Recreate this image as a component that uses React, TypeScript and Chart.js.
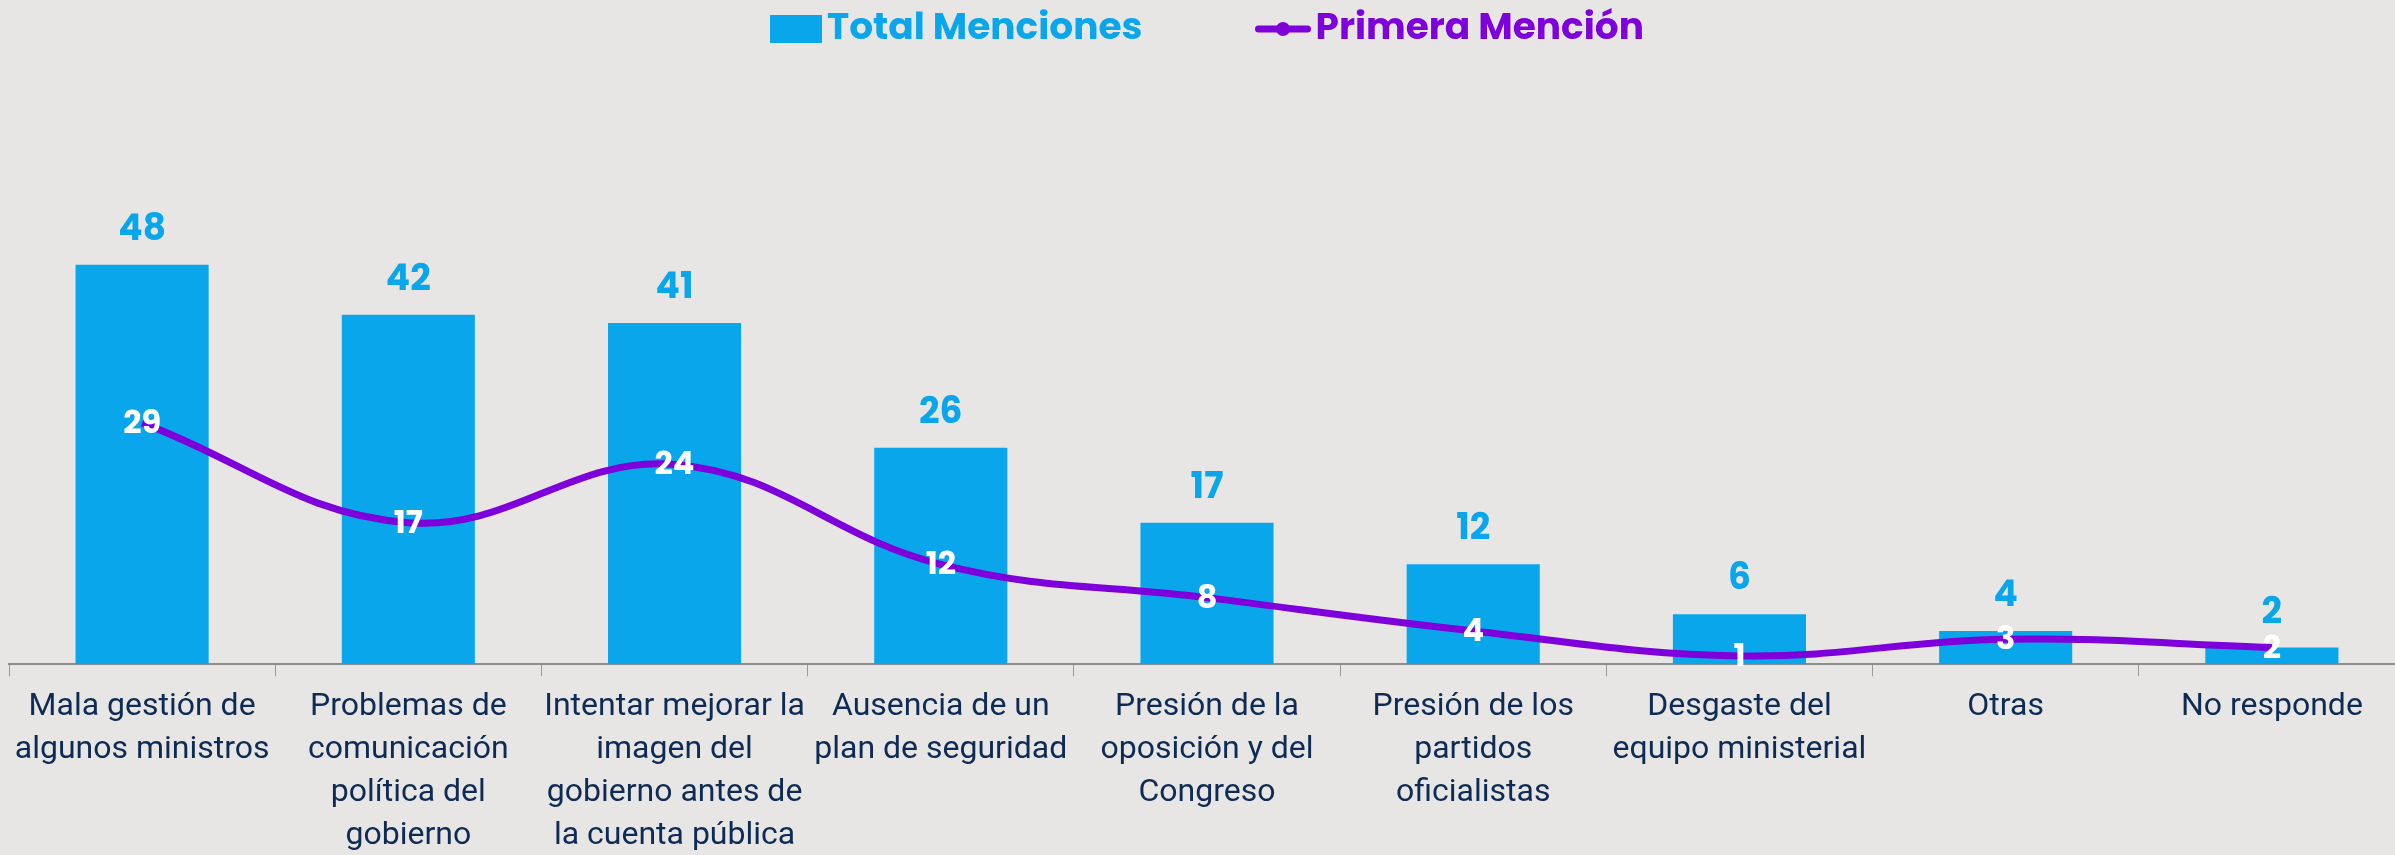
import React, { useEffect, useRef } from 'react';
import { Chart, registerables } from 'chart.js';

Chart.register(...registerables);

const categories: string[][] = [
  ['Mala gestión de', 'algunos ministros'],
  ['Problemas de', 'comunicación', 'política del', 'gobierno'],
  ['Intentar mejorar la', 'imagen del', 'gobierno antes de', 'la cuenta pública'],
  ['Ausencia de un', 'plan de seguridad'],
  ['Presión de la', 'oposición y del', 'Congreso'],
  ['Presión de los', 'partidos', 'oficialistas'],
  ['Desgaste del', 'equipo ministerial'],
  ['Otras'],
  ['No responde'],
];
const totalMenciones: number[] = [48, 42, 41, 26, 17, 12, 6, 4, 2];
const primeraMencion: number[] = [29, 17, 24, 12, 8, 4, 1, 3, 2];
const seriesNames: string[] = ['Total Menciones', 'Primera Mención'];

const BAR_COLOR = '#0AA6EC';
const LINE_COLOR = '#7E00DB';
const BG = '#E8E6E4';
const TICK_COLOR = '#0E2B55';
const BOLD_FONT = "Poppins, Inter, 'Noto Sans', sans-serif";
const TICK_FONT = "Roboto, 'Noto Sans', sans-serif";
const Y_MAX = 72.6;

const valueLabelPlugin = {
  id: 'valueLabels',
  afterDatasetsDraw(chart: any) {
    const ctx = chart.ctx;
    ctx.save();
    ctx.textAlign = 'center';
    ctx.textBaseline = 'middle';
    chart.data.datasets.forEach((ds: any, di: number) => {
      const meta = chart.getDatasetMeta(di);
      if (ds.type === 'bar') {
        ctx.font = `bold 36px ${BOLD_FONT}`;
        ctx.fillStyle = BAR_COLOR;
        meta.data.forEach((el: any, i: number) => {
          ctx.fillText(String(ds.data[i]), el.x, el.y - 34);
        });
      }
    });
    chart.data.datasets.forEach((ds: any, di: number) => {
      const meta = chart.getDatasetMeta(di);
      if (ds.type === 'line') {
        ctx.font = `bold 32px ${BOLD_FONT}`;
        ctx.fillStyle = '#FFFFFF';
        meta.data.forEach((el: any, i: number) => {
          ctx.fillText(String(ds.data[i]), el.x, el.y + 2);
        });
      }
    });
    ctx.restore();
  },
};

const legendPlugin = {
  id: 'topLegend',
  afterDraw(chart: any) {
    const ctx = chart.ctx;
    const area = chart.chartArea;
    ctx.save();
    ctx.font = `bold 37.5px ${BOLD_FONT}`;
    ctx.textBaseline = 'middle';
    ctx.textAlign = 'left';
    const w1 = ctx.measureText(seriesNames[0]).width;
    const w2 = ctx.measureText(seriesNames[1]).width;
    const rectW = 52;
    const rectH = 28;
    const iconW = 55;
    const gap = 5;
    const itemGap = 113;
    const total = rectW + gap + w1 + itemGap + iconW + gap + w2;
    let x = (area.left + area.right) / 2 - total / 2;
    const cy = 29;
    ctx.fillStyle = BAR_COLOR;
    ctx.fillRect(x, cy - rectH / 2, rectW, rectH);
    x += rectW + gap;
    ctx.fillText(seriesNames[0], x, cy + 1);
    x += w1 + itemGap;
    ctx.strokeStyle = LINE_COLOR;
    ctx.lineWidth = 7;
    ctx.lineCap = 'round';
    ctx.beginPath();
    ctx.moveTo(x + 3, cy);
    ctx.lineTo(x + iconW - 3, cy);
    ctx.stroke();
    ctx.fillStyle = LINE_COLOR;
    ctx.beginPath();
    ctx.arc(x + iconW / 2, cy, 7, 0, Math.PI * 2);
    ctx.fill();
    x += iconW + gap;
    ctx.fillText(seriesNames[1], x, cy + 1);
    ctx.restore();
  },
};

export default function App() {
  const canvasRef = useRef<HTMLCanvasElement | null>(null);

  useEffect(() => {
    document.body.style.margin = '0';
    const canvas = canvasRef.current;
    if (!canvas) return;
    const chart = new Chart(canvas, {
      type: 'bar',
      data: {
        labels: categories,
        datasets: [
          {
            type: 'line',
            label: seriesNames[1],
            data: primeraMencion,
            borderColor: LINE_COLOR,
            backgroundColor: LINE_COLOR,
            borderWidth: 7,
            tension: 0.4,
            pointRadius: 0,
            fill: false,
            order: 0,
          } as any,
          {
            type: 'bar',
            label: seriesNames[0],
            data: totalMenciones,
            backgroundColor: BAR_COLOR,
            barPercentage: 0.5,
            categoryPercentage: 1.0,
            order: 1,
          } as any,
        ],
      },
      options: {
        responsive: false,
        animation: false,
        events: [],
        layout: { padding: { left: 9, right: 0, top: 60, bottom: -12 } },
        plugins: {
          legend: { display: false },
          tooltip: { enabled: false },
        },
        scales: {
          x: {
            offset: true,
            grid: {
              display: true,
              offset: true,
              drawOnChartArea: false,
              drawTicks: true,
              tickLength: 12,
              color: '#9A9A9A',
              lineWidth: 1,
            },
            border: { display: true, color: '#8C8C8C', width: 2 },
            ticks: {
              color: TICK_COLOR,
              font: { family: TICK_FONT, size: 32, lineHeight: 1.35 },
              padding: 9,
              maxRotation: 0,
              autoSkip: false,
            },
          },
          y: {
            display: false,
            min: 0,
            max: Y_MAX,
          },
        },
      },
      plugins: [valueLabelPlugin, legendPlugin],
    });
    return () => chart.destroy();
  }, []);

  return (
    <div
      style={{
        position: 'fixed',
        left: 0,
        top: 0,
        width: 2395,
        height: 855,
        overflow: 'hidden',
        background: BG,
      }}
    >
      <canvas
        ref={canvasRef}
        width={2405}
        height={855}
        style={{ display: 'block', width: 2405, height: 855 }}
      />
    </div>
  );
}
